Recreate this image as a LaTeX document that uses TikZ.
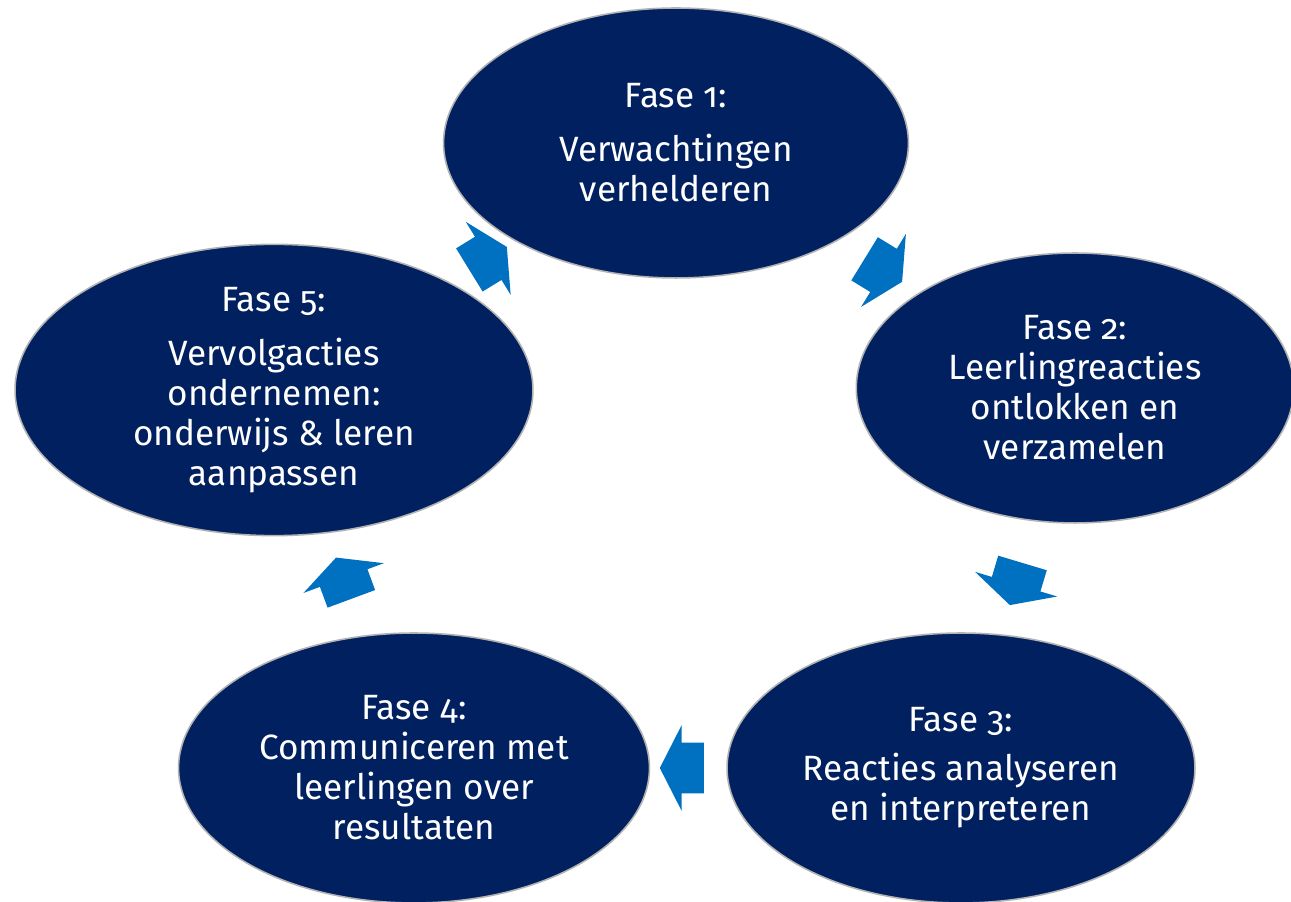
\documentclass[tikz,border=0pt]{standalone}
\usepackage{fontspec}
\setmainfont{Fira Sans}[Numbers=OldStyle]
\usepackage{xcolor}
\usetikzlibrary{shapes}
\definecolor{fasenavy}{RGB}{0,32,96}
\definecolor{pijlblauw}{RGB}{0,112,192}

\begin{document}
\begin{tikzpicture}[x=0.02cm,y=0.02cm,
      fase/.style={ellipse,draw=black!30,line width=0.9pt,fill=fasenavy,
                   text=white,align=center,inner sep=0pt,minimum height=5.4cm,
                   font=\fontsize{20}{22.8}\selectfont},
      pijl/.style={single arrow,fill=pijlblauw,draw=none,
                   inner xsep=0pt,inner ysep=0.5cm,
                   minimum height=0.88cm,
                   single arrow head extend=0.35cm,single arrow tip angle=126,
                   sloped,allow upside down,pos=0.5}]
    \useasboundingbox (0,0) rectangle (1291,902);
    \clip (0,0) rectangle (1291,902);
    % phases of the cycle
    \node[fase,minimum width=9.3cm] (f1) at (676,759)
          {Fase 1:\\[8pt]Verwachtingen\\verhelderen};
    \node[fase,minimum width=8.75cm] (f2) at (1075,514)
          {Fase 2:\\Leerlingreacties\\ontlokken en\\verzamelen};
    \node[fase,minimum width=9.36cm] (f3) at (961,134)
          {Fase 3:\\[5pt]Reacties analyseren\\en interpreteren};
    \node[fase,minimum width=9.42cm] (f4) at (414,134)
          {Fase 4:\\Communiceren met\\leerlingen over\\resultaten};
    \node[fase,minimum width=10.36cm] (f5) at (274,512)
          {Fase 5:\\[8pt]Vervolgacties\\ondernemen:\\onderwijs \& leren\\aanpassen};
    % arrows between the phases
    \path (f1) -- node[pijl] (p12) {} (f2);
    \path (f2) -- node[pijl] (p23) {} (f3);
    \path (f3) -- node[pijl] (p34) {} (f4);
    \path (f4) -- node[pijl] (p45) {} (f5);
    \path (f5) -- node[pijl] (p51) {} (f1);
\end{tikzpicture}
\end{document}
